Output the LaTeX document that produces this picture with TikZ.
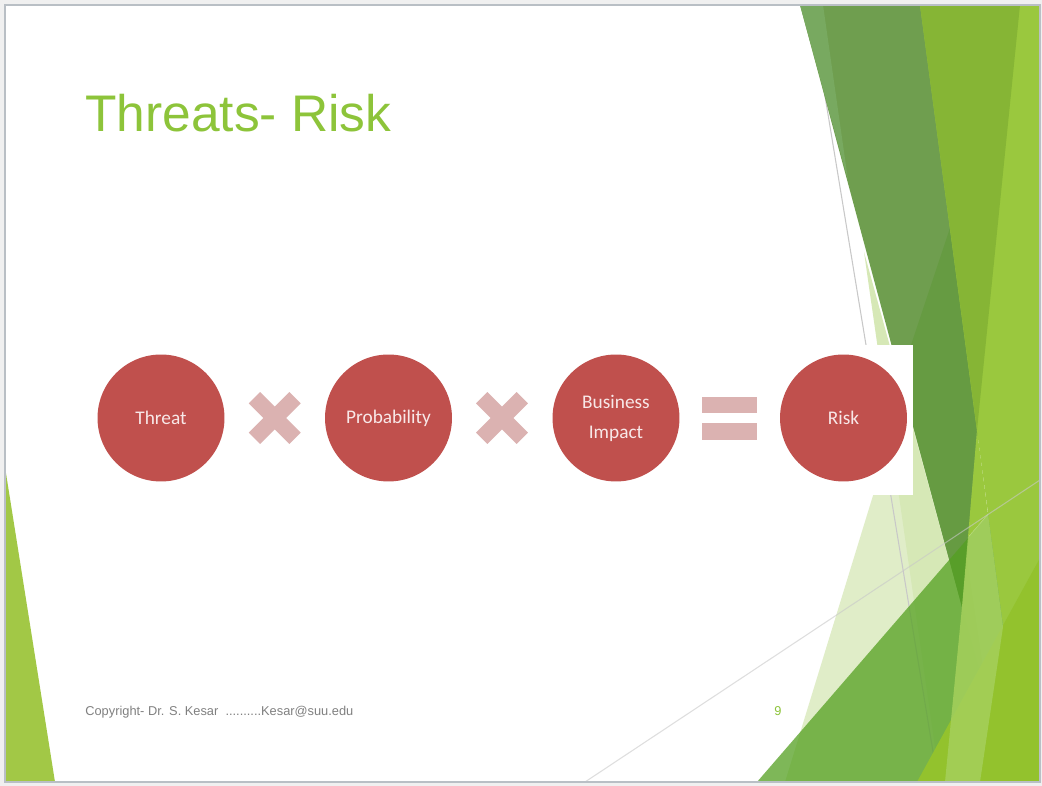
\documentclass[tikz,border=0pt]{standalone}
\usepackage{fontspec}
\setmainfont{Liberation Sans}
\newfontfamily\labelfont{Carlito}
\definecolor{framefill}{HTML}{F0F0F0}
\definecolor{frameline}{HTML}{B9BFC5}
\definecolor{titlegreen}{HTML}{8DC43A}
\definecolor{footgray}{HTML}{808080}
\definecolor{discred}{HTML}{C0504D}
\definecolor{disctext}{HTML}{F8E8E8}
\definecolor{opcolor}{HTML}{DBB2B1}
\definecolor{facetpale}{HTML}{E0EDC8}
\definecolor{facetpaleb}{HTML}{D6E8B6}
\definecolor{facetmid}{HTML}{6F9E4F}
\definecolor{facetsliver}{HTML}{78A960}
\definecolor{facetdark}{HTML}{669B42}
\definecolor{facetaccent}{HTML}{54A021}
\definecolor{facetlime}{HTML}{9AC83E}
\definecolor{facetmix}{HTML}{86B535}
\definecolor{facetwedge}{HTML}{A5D05C}
\definecolor{facetbottom}{HTML}{93C22D}
\definecolor{facetleft}{HTML}{A2C846}
\definecolor{hairline}{HTML}{C8C8C8}
\begin{document}
\begin{tikzpicture}[x=0.02cm,y=-0.02cm,
  disc/.style={circle, fill=discred, minimum size=2.54cm, inner sep=0pt,
    text=disctext, align=center,
    font=\labelfont\fontsize{11}{17}\selectfont},
  eqbar/.style={rectangle, fill=opcolor, minimum width=1.1cm,
    minimum height=0.33cm, inner sep=0pt},
  timesmark/.pic={\fill[opcolor, rotate=45]
    (8,28.75) -- (8,8) -- (28.75,8) -- (28.75,-8) -- (8,-8) -- (8,-28.75)
    -- (-8,-28.75) -- (-8,-8) -- (-28.75,-8) -- (-28.75,8) -- (-8,8)
    -- (-8,28.75) -- cycle;},
  hair/.style={draw=hairline, line width=0.6pt}
]
% window surround and slide
\fill[framefill] (0,0) rectangle (1042,786);
\useasboundingbox (0,0) rectangle (1042,786);
\fill[white] (5,5) rectangle (1040,782);

% facet decoration
\begin{scope}
  \clip (5,5) rectangle (1040,782);
  % left lime triangle
  \fill[facetleft] (5,467) -- (55,782) -- (5,782) -- cycle;
  % pale facets
  \fill[facetpale] (785,782) -- (930,310) -- (1000,782) -- cycle;
  \fill[facetpaleb] (864,252) -- (940,782) -- (1010,782) -- cycle;
  \draw[hair] (810,5) -- (938,782);
  % upper band
  \fill[facetmid] (800,5) -- (1020,5) -- (962,607) -- cycle;
  \fill[facetsliver] (800,5) -- (823,5) -- (848,180) -- cycle;
  \fill[facetdark] (950,228) -- (977,430) -- (962,607) -- (900,378) -- cycle;
  % translucent lower triangle
  \fill[facetaccent, opacity=0.75] (757,782) -- (1040,455) -- (1040,782) -- cycle;
  % right lime strip
  \fill[facetlime] (920,5) -- (1040,5) -- (1040,782) -- (1024,782) -- cycle;
  \fill[facetmix] (920,5) -- (1020,5) -- (977,430) -- cycle;
  \fill[facetlime] (977,430) -- (988,514) -- (968,537) -- cycle;
  % lower lime triangle
  \fill[facetbottom] (917,782) -- (1040,558) -- (1040,782) -- cycle;
  % light wedge
  \fill[facetwedge, opacity=0.85] (968,537) -- (988,514) -- (1003,627)
    -- (980,782) -- (945,782) -- (962,607) -- cycle;
  \draw[hair, opacity=0.6] (585,782) -- (1040,480);
\end{scope}
\draw[frameline, line width=0.6pt] (5,5) rectangle (1040,782);

% title
\node[anchor=base west, inner sep=0pt, text=titlegreen,
  font=\fontsize{29.3}{35}\selectfont] (title) at (85,132) {Threats- Risk};

% risk equation panel
\fill[white] (93,345) rectangle (913,495);
\node[disc] (threat) at (161,418) {Threat};
\node[disc] (probability) at (388.5,418) {Probability};
\node[disc] (impact) at (616,418) {Business\\Impact};
\node[disc] (risk) at (843.5,418) {Risk};
\pic (timesA) at (274.75,418) {timesmark};
\pic (timesB) at (502,418) {timesmark};
\node[eqbar] (eqtop) at (729.75,405) {};
\node[eqbar] (eqbottom) at (729.75,431.5) {};

% footer
\node[anchor=base west, inner sep=0pt, text=footgray,
  font=\fontsize{7.3}{9}\selectfont] (footer) at (85,716)
  {Copyright- Dr. S. Kesar\ \ ..........Kesar@suu.edu};
\node[anchor=base, inner sep=0pt, text=titlegreen,
  font=\fontsize{7.3}{9}\selectfont] (pagenum) at (778,716) {9};
\end{tikzpicture}
\end{document}
